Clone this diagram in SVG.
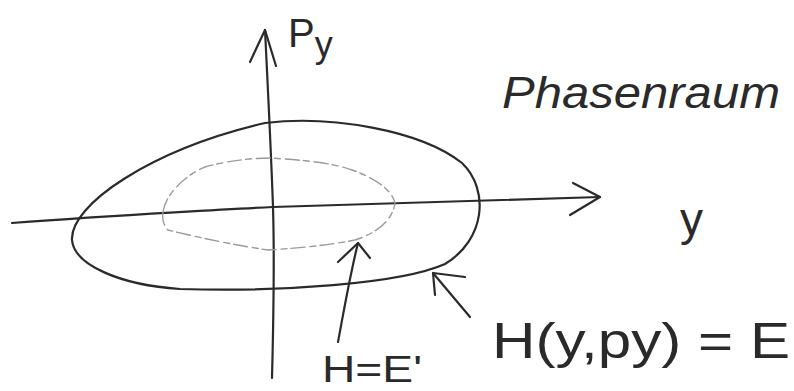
<svg xmlns="http://www.w3.org/2000/svg" width="794" height="391" viewBox="0 0 794 391">
<style>
.ink{fill:none;stroke:#2a2a2a;stroke-width:2.2;stroke-linecap:round;stroke-linejoin:round}
.faint{fill:none;stroke:#9a9a9a;stroke-width:1.4;stroke-dasharray:14 4 6 5;stroke-linecap:round}
.lbl{font-family:"Liberation Sans","DejaVu Sans",sans-serif;fill:#2a2a2a}
</style>
<rect width="794" height="391" fill="#ffffff"/>
<g id="axes">
  <g id="p-axis">
    <path class="ink" d="M272 378 C274 300 274 240 273 207 C271 150 268 90 265 30"/>
    <path class="ink" d="M250 62 L265 30 L276 66"/>
  </g>
  <g id="y-axis">
    <path class="ink" d="M12 223 C120 215 250 208 273 207 C400 203 500 200 600 197"/>
    <path class="ink" d="M573 183 L600 197 L570 215"/>
  </g>
</g>
<g id="outer-curve">
  <path class="ink" d="M72 240 C70 205 150 150 265 123 C330 115 420 130 462 163 C490 190 485 240 445 264 C400 284 280 292 180 289 C120 285 74 265 72 240 Z"/>
</g>
<g id="inner-curve">
  <path class="faint" d="M163 212 C165 195 185 175 205 167 C230 160 255 158 270 158 C300 160 330 162 352 170 C375 178 392 190 395 203 C393 218 380 232 355 240 C330 245 300 248 268 250 C240 246 200 238 168 230 C163 225 162 218 163 212 Z"/>
</g>
<g id="connectors">
  <path class="ink" d="M338 342 C344 310 350 275 358 243"/>
  <path class="ink" d="M338 262 L358 243 L370 258"/>
  <path class="ink" d="M470 317 L433 273"/>
  <path class="ink" d="M435 295 L433 273 L465 277"/>
</g>
<g id="label-p">
  <text class="lbl" x="288" y="47" font-size="40">P<tspan font-size="36" dy="10">y</tspan></text>
</g>
<g id="label-y">
  <text class="lbl" x="680" y="235" font-size="46">y</text>
</g>
<g id="label-phasenraum">
  <text class="lbl" x="502" y="108" font-size="44" font-style="italic" textLength="278" lengthAdjust="spacingAndGlyphs">Phasenraum</text>
</g>
<g id="label-outer">
  <text class="lbl" x="492" y="358" font-size="50" textLength="298" lengthAdjust="spacingAndGlyphs">H(y,py) = E</text>
</g>
<g id="label-inner">
  <text class="lbl" x="322" y="382" font-size="36" textLength="100" lengthAdjust="spacingAndGlyphs">H=E'</text>
</g>
</svg>
